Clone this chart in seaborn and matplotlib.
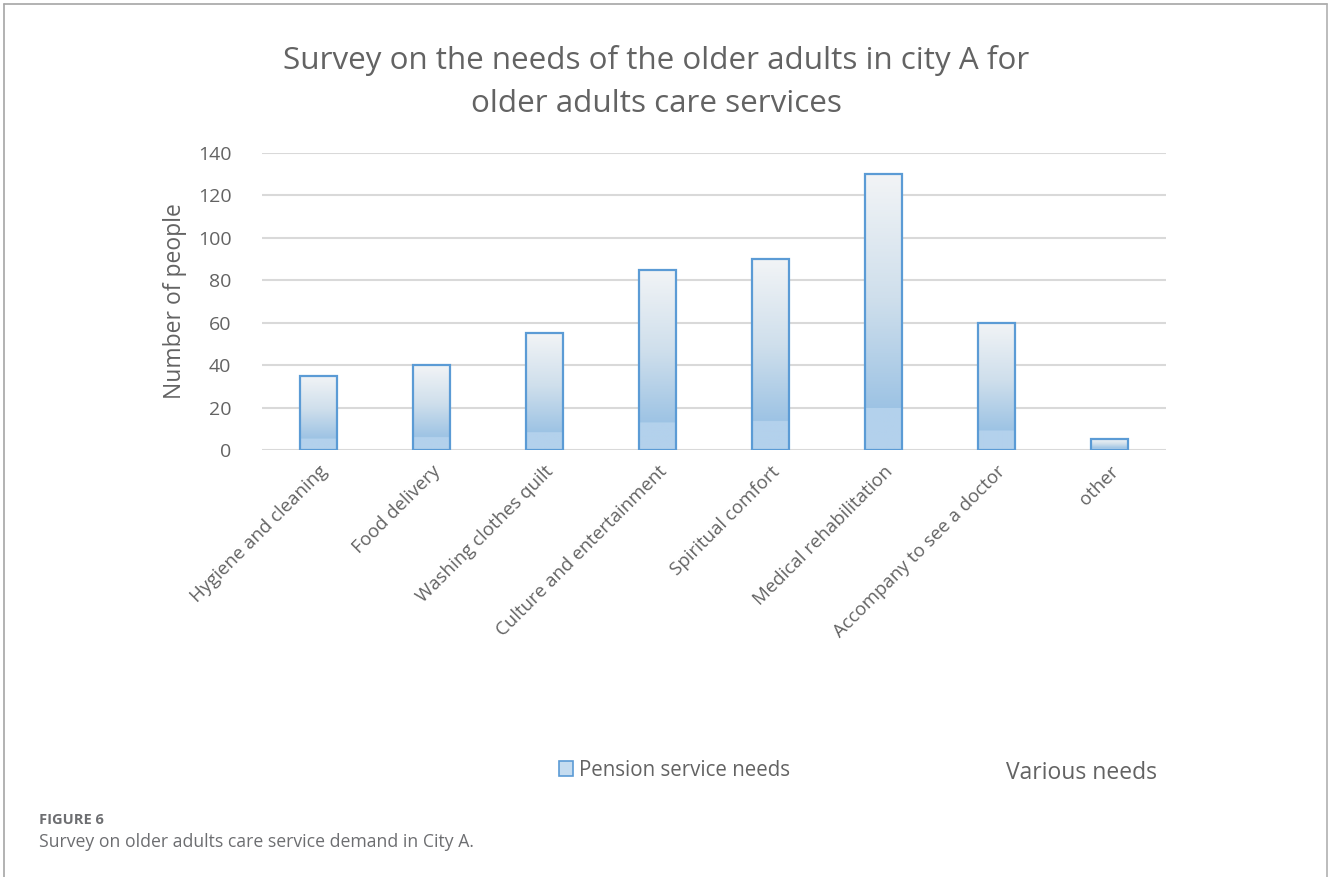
import numpy as np
import pandas as pd
import matplotlib
matplotlib.use("Agg")
import matplotlib.pyplot as plt
import seaborn as sns
from matplotlib.patches import Patch
from matplotlib.colors import LinearSegmentedColormap
from matplotlib.lines import Line2D

categories = ["Hygiene and cleaning", "Food delivery", "Washing clothes quilt",
              "Culture and entertainment", "Spiritual comfort", "Medical rehabilitation",
              "Accompany to see a doctor", "other"]
values = [35, 40, 55, 85, 90, 130, 60, 5]
yticks = [0, 20, 40, 60, 80, 100, 120, 140]

sns.set_theme(style="white")
plt.rcParams['font.family'] = ['Open Sans', 'DejaVu Sans']
TXT = "#636363"

fig = plt.figure(figsize=(13.28, 8.77), dpi=100)
ax = fig.add_axes([262/1328, 1-450/877, (1166-262)/1328, (450-153)/877])

df = pd.DataFrame({"need": categories, "people": values})
sns.barplot(data=df, x="need", y="people", ax=ax, width=0.32, color="#bdd7ee")

ax.set_ylim(0, 140)
ax.set_yticks(yticks)
ax.set_xlim(-0.5, len(categories) - 0.5)
ax.grid(axis="y", color="#d9d9d9", linewidth=1.5)
ax.set_axisbelow(True)
for s in ax.spines.values():
    s.set_visible(False)
ax.tick_params(axis="both", length=0, colors=TXT)
ax.tick_params(axis="y", pad=22, labelsize=14)
ax.tick_params(axis="x", pad=9, labelsize=13.4)
ax.set_xlabel("")
ax.set_ylabel("Number of people", fontsize=16.5, color=TXT, labelpad=8)
plt.setp(ax.get_xticklabels(), rotation=45, ha="right", rotation_mode="anchor")

# gradient fill
cmap = LinearSegmentedColormap.from_list(
    "g", [(0.0, "#f2f4f6"), (0.45, "#cfdfec"), (0.849, "#9dc3e4"), (0.85, "#b3d1ec"), (1.0, "#b3d1ec")])
grad = np.linspace(0, 1, 256).reshape(-1, 1)
for p in list(ax.patches):
    x0, y0 = p.get_x(), p.get_y()
    w, h = p.get_width(), p.get_height()
    im = ax.imshow(grad, cmap=cmap, aspect="auto", extent=[x0, x0 + w, y0, y0 + h],
                   origin="upper", zorder=2)
    im.set_clip_path(p)
    p.set_facecolor("none")
    p.set_edgecolor("#5b9bd5")
    p.set_linewidth(1.6)
    p.set_zorder(3)
ax.set_xlim(-0.5, len(categories) - 0.5)
ax.set_ylim(0, 140)
ax.set_aspect("auto")

fig.text(656/1328, 1-60/877, "Survey on the needs of the older adults in city A for",
         ha="center", va="center", fontsize=22.6, color=TXT)
fig.text(656/1328, 1-104/877, "older adults care services",
         ha="center", va="center", fontsize=22.6, color=TXT)

handle = Patch(facecolor="#c5dcf0", edgecolor="#5b9bd5", linewidth=1.2)
fig.legend([handle], ["Pension service needs"], loc="center left",
           bbox_to_anchor=(540/1328, 1-770/877), frameon=False, fontsize=14.8,
           handlelength=0.7, handleheight=0.7, handletextpad=0.3, labelcolor=TXT)
fig.text(1157/1328, 1-773/877, "Various needs", ha="right", va="center",
         fontsize=16.5, color=TXT)

fig.text(39/1328, 1-820/877, "FIGURE 6", ha="left", va="center", fontsize=10.5,
         color="#6d6e71", fontweight="bold")
fig.text(39/1328, 1-842/877, "Survey on older adults care service demand in City A.",
         ha="left", va="center", fontsize=12.7, color="#6d6e71")

# frame
fig.add_artist(Line2D([4/1328, 1326.5/1328], [1-4/877, 1-4/877], color="#a6a6a6", lw=1.2))
fig.add_artist(Line2D([4/1328, 4/1328], [0, 1-4/877], color="#a6a6a6", lw=1.2))
fig.add_artist(Line2D([1326.5/1328, 1326.5/1328], [0, 1-4/877], color="#b0b0b0", lw=1.2))

fig.savefig("out.png", dpi=100)
